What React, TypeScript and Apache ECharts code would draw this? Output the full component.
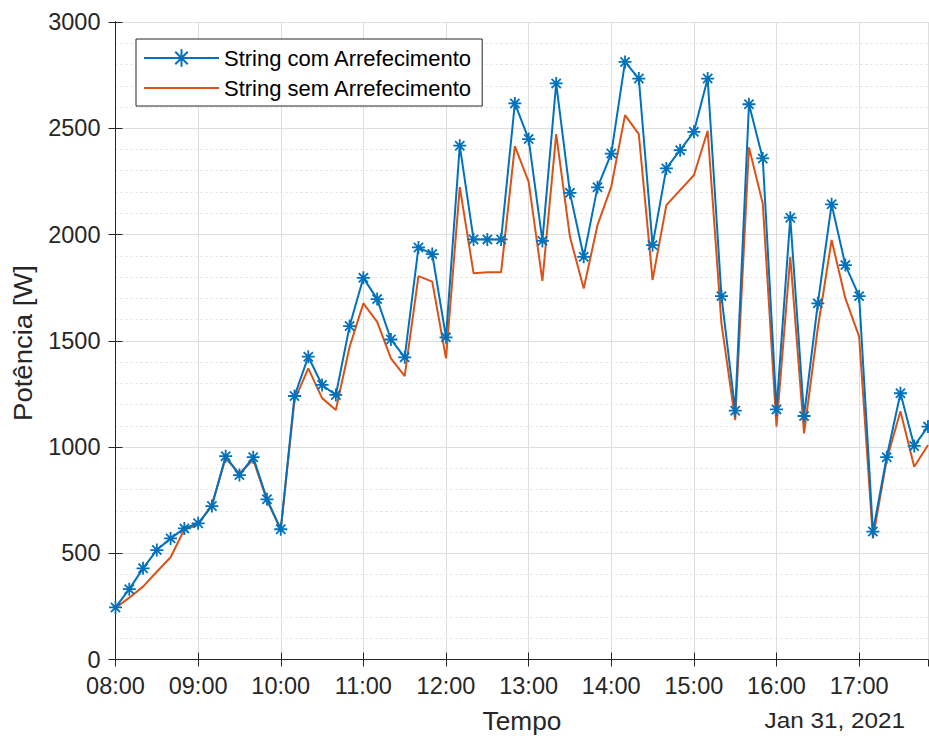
import React, { useEffect, useRef } from "react";
import * as echarts from "echarts";

const startMinutes = 8 * 60;
const stepMinutes = 10;

const comArrefecimento = [
  245, 331, 429, 515, 570, 617, 641, 722, 957, 868,
  952, 754, 613, 1240, 1425, 1292, 1245, 1569, 1796, 1696,
  1506, 1422, 1939, 1908, 1516, 2418, 1977, 1977, 1977, 2617,
  2449, 1970, 2711, 2196, 1895, 2222, 2381, 2812, 2734, 1950,
  2311, 2397, 2483, 2734, 1710, 1171, 2613, 2358, 1177, 2079,
  1146, 1676, 2142, 1856, 1710, 602, 952, 1253, 1005, 1096,
];

const semArrefecimento = [
  242, 291, 343, 413, 481, 612, 634, 729, 947, 875,
  940, 750, 610, 1221, 1370, 1230, 1174, 1472, 1676, 1589,
  1417, 1334, 1804, 1778, 1417, 2223, 1818, 1822, 1822, 2416,
  2248, 1782, 2472, 1989, 1746, 2044, 2225, 2562, 2472, 1786,
  2138, 2209, 2279, 2488, 1582, 1127, 2410, 2146, 1096, 1895,
  1064, 1560, 1974, 1699, 1519, 570, 940, 1168, 907, 1009,
];

const seriesNames = ["String com Arrefecimento", "String sem Arrefecimento"];
const yAxisName = "Potência [W]";
const xAxisName = "Tempo";
const dateLabel = "Jan 31, 2021";

const FONT = "'Liberation Sans', Arial, Helvetica, sans-serif";
const TXT = "#262626";
const BLUE = "#0072BD";
const ORANGE = "#D95319";
const TICK_FS = 23.5;

const fmtTime = (m: number) => {
  if (m % 60 !== 0) return "";
  const t = startMinutes + m;
  const h = Math.floor(t / 60);
  const mm = t % 60;
  return `${String(h).padStart(2, "0")}:${String(mm).padStart(2, "0")}`;
};

const asterisk =
  "path://M0,5L10,5M5,0L5,10M1.46,1.46L8.54,8.54M8.54,1.46L1.46,8.54";
const lineIcon = "path://M0,0L75,0L75,2L0,2Z";

export default function App() {
  const ref = useRef<HTMLDivElement>(null);
  useEffect(() => {
    if (!ref.current) return;
    const chart = echarts.init(ref.current, undefined, { renderer: "svg" });
    const xMax = (comArrefecimento.length - 1) * stepMinutes;
    const d1 = comArrefecimento.map((v, i) => [i * stepMinutes, v]);
    const d2 = semArrefecimento.map((v, i) => [i * stepMinutes, v]);
    const axisCommon = {
      axisLine: { show: true, lineStyle: { color: TXT, width: 1 } },
      axisTick: { show: true, inside: true, length: 7, lineStyle: { color: TXT } },
    };
    chart.setOption({
      animation: false,
      backgroundColor: "#ffffff",
      textStyle: { fontFamily: FONT },
      grid: { left: 115.5, right: 1, top: 22, bottom: 76.5, containLabel: false },
      legend: {
        orient: "vertical",
        left: 136,
        top: 39,
        padding: [8, 10, 7, 7],
        itemGap: 8,
        itemWidth: 75,
        itemHeight: 22,
        borderColor: TXT,
        borderWidth: 1,
        backgroundColor: "#ffffff",
        textStyle: { fontSize: 22, color: "#000", fontFamily: FONT, lineHeight: 22 },
        data: [
          { name: seriesNames[0] },
          {
            name: seriesNames[1],
            icon: lineIcon,
            itemStyle: { color: ORANGE, borderWidth: 0 },
          },
        ],
      },
      xAxis: [
        {
          type: "value",
          min: 0,
          max: xMax,
          interval: 60,
          ...axisCommon,
          axisLabel: {
            formatter: (v: number) => fmtTime(v),
            fontSize: TICK_FS,
            color: TXT,
            fontFamily: FONT,
            margin: 14,
            showMaxLabel: false,
          },
          splitLine: { show: true, lineStyle: { color: "#dedede", width: 1 } },
        },
        {
          type: "value",
          position: "top",
          min: 0,
          max: xMax,
          interval: 60,
          ...axisCommon,
          axisLabel: { show: false },
          splitLine: { show: false },
        },
      ],
      yAxis: [
        {
          type: "value",
          min: 0,
          max: 3000,
          interval: 500,
          ...axisCommon,
          axisLabel: {
            fontSize: TICK_FS,
            color: TXT,
            fontFamily: FONT,
            margin: 15,
            formatter: (v: number) => String(v),
          },
          splitLine: { show: true, lineStyle: { color: "#dedede", width: 1 } },
          minorTick: { show: false, splitNumber: 5 },
          minorSplitLine: {
            show: true,
            lineStyle: { color: "#e0e0e0", width: 1, type: [2, 3] },
          },
        },
        {
          type: "value",
          position: "right",
          min: 0,
          max: 3000,
          interval: 500,
          ...axisCommon,
          axisLabel: { show: false },
          splitLine: { show: false },
        },
      ],
      graphic: [
        {
          type: "text",
          x: 522,
          y: 721,
          scaleX: 1.05,
          style: {
            text: xAxisName,
            fontSize: 25,
            fill: TXT,
            fontFamily: FONT,
            align: "center",
            verticalAlign: "middle",
          },
        },
        {
          type: "text",
          x: 23,
          y: 343,
          rotation: Math.PI / 2,
          scaleX: 1.1,
          style: {
            text: yAxisName,
            fontSize: 25,
            fill: TXT,
            fontFamily: FONT,
            align: "center",
            verticalAlign: "middle",
          },
        },
        {
          type: "text",
          x: 905,
          y: 720,
          scaleX: 1.08,
          style: {
            text: dateLabel,
            fontSize: 22.5,
            fill: TXT,
            fontFamily: FONT,
            align: "right",
            verticalAlign: "middle",
          },
        },
      ],
      series: [
        {
          name: seriesNames[0],
          type: "line",
          data: d1,
          symbol: asterisk,
          symbolSize: 13,
          showSymbol: true,
          lineStyle: { color: BLUE, width: 2 },
          itemStyle: { color: BLUE, borderColor: BLUE, borderWidth: 1.8 },
          z: 3,
        },
        {
          name: seriesNames[1],
          type: "line",
          data: d2,
          symbol: "none",
          lineStyle: { color: ORANGE, width: 2 },
          itemStyle: { color: ORANGE },
          z: 2,
        },
      ],
    });
    return () => chart.dispose();
  }, []);
  return (
    <div
      ref={ref}
      style={{ position: "absolute", left: 0, top: 0, width: 929, height: 736 }}
    />
  );
}
